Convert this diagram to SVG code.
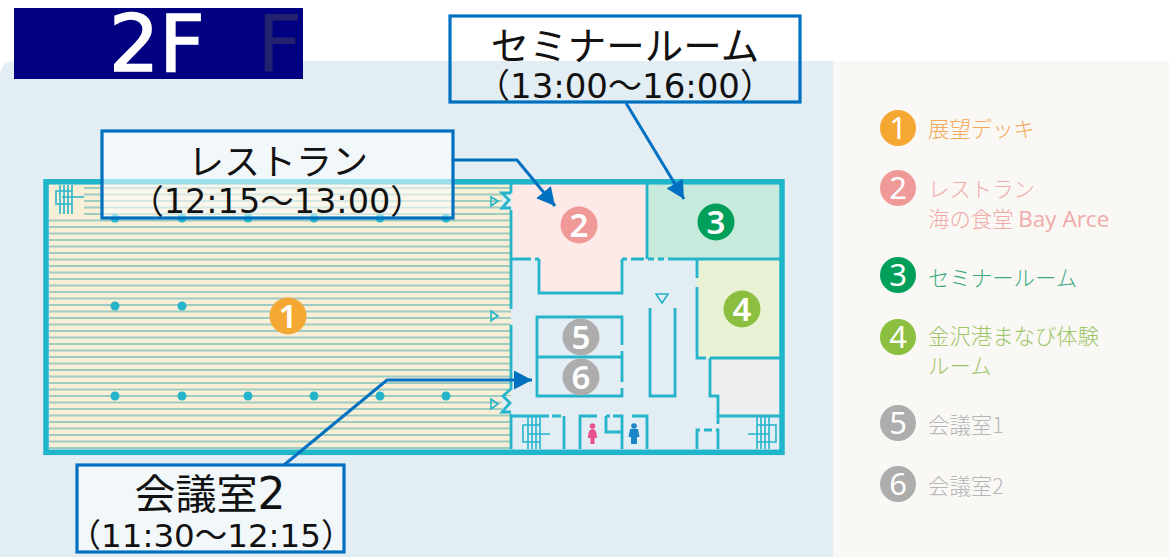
<svg xmlns="http://www.w3.org/2000/svg" width="1169" height="557" viewBox="0 0 1169 557">
<style>
.w{fill:none;stroke:#25b4ca;stroke-width:2.8}
.t{fill:none;stroke:#25b4ca;stroke-width:1.6}
.col{fill:#25b4ca}
.num{font-family:"Noto Sans","Open Sans",sans-serif;font-size:33px;font-weight:600;fill:#fff;text-anchor:middle}
.lnum{font-family:"Noto Sans","Open Sans",sans-serif;font-size:31px;font-weight:400;fill:#fff;text-anchor:middle}
.leg{font-family:"Noto Sans CJK JP","Noto Sans",sans-serif;font-size:21.400px;font-weight:300}
.box{fill:#fff;fill-opacity:.55;stroke:#0070c0;stroke-width:3.200}
.big{font-family:"DejaVu Sans","Noto Sans CJK JP",sans-serif;fill:#111;text-anchor:middle}
.cn{fill:none;stroke:#0070c0;stroke-width:3}
</style>
<defs>
<marker id="ah" markerUnits="userSpaceOnUse" markerWidth="20" markerHeight="20" refX="18" refY="9.500" orient="auto">
<path d="M0 0L18 9.500L0 19Z" fill="#0070c0"/>
</marker>
</defs>
<path d="M0 557V77Q0 61 16 61H833V557Z" fill="#e3edf4"/>
<rect x="833" y="61" width="336" height="496" fill="#faf8f5"/>
<g id="plan">
<rect x="49" y="184" width="462" height="265" fill="#f9eed6"/>
<line x1="280" y1="187" x2="280" y2="449" stroke="#9fccc0" stroke-width="462" stroke-dasharray="1.900 4.600"/>
<rect x="49" y="184" width="35" height="31" fill="#f9eed6"/>
<path d="M511 184H647V259H622V293H539V259H511Z" fill="#fde9e7"/>
<path d="M511 259H539V293H622V259H697V358H710V396H718V416H780V449H511ZM511 184Z" fill="#e3edf4"/>
<rect x="647" y="184" width="133" height="75" fill="#c8eadd"/>
<rect x="697" y="259" width="83" height="99" fill="#e9f2d5"/>
<path d="M710 358H780V416H718V396H710Z" fill="#efefef"/>
<rect x="502" y="193" width="10" height="17" fill="#e3edf4"/>
<rect x="502" y="396" width="10" height="18" fill="#e3edf4"/>
<rect x="46" y="181.800" width="736" height="270.500" fill="none" stroke="#1fb5ca" stroke-width="5.500"/>
<path class="w" d="M511 184V193M511 210V309M511 325V388M511 414V449M647 184V259M539 259V293H622V259M697 259V278M697 287V358H706M710 358H780M710 358V396H718V416H780M511 259H531M535 259H539M622 259H627M631 259H644M648 259H654M658 259H664M668 259H780"/>
<path class="w" d="M622 345V317H537V396H622V388M622 382V357H537M622 357V351M650 308V396H675V308"/>
<path class="w" d="M511 416H549M552 416H561M564 416V449M580 449V416H597M606 416V432H622M606 416H610M613 416H622V449M632 416H647V449M697 449V430H700M704 430H712M716 430H718V449M718 416V424M718 429V449"/>
<path class="t" d="M656 294H668L662 303ZM491 197L498 201L491 206ZM491 311L498 316L491 321ZM491 399L498 404L491 409Z"/>
<path class="w" d="M511 193H502L509 200L502 208H511M512 388L503 396L510 403L502 412H511"/>
<g id="stairs">
<path class="t" d="M72 191H56V204H72M60 185V214M64 185V214M68 185V214M72 185V214M62 197H84"/>
<path class="t" d="M540 425H523V442H540M528 417V449M532 417V449M536 417V449M540 417V449M528 434H550"/>
<path class="t" d="M757 425H776V442H757M757 417V449M761 417V449M765 417V449M769 417V449M748 434H770"/>
</g>
<g id="columns" class="col">
<circle cx="115" cy="218" r="4.500"/><circle cx="182" cy="218" r="4.500"/><circle cx="248" cy="218" r="4.500"/><circle cx="314" cy="218" r="4.500"/><circle cx="380" cy="218" r="4.500"/><circle cx="446" cy="218" r="4.500"/>
<circle cx="115" cy="306" r="4.500"/><circle cx="182" cy="306" r="4.500"/>
<circle cx="115" cy="396" r="4.500"/><circle cx="182" cy="396" r="4.500"/><circle cx="248" cy="396" r="4.500"/><circle cx="314" cy="396" r="4.500"/><circle cx="380" cy="396" r="4.500"/><circle cx="446" cy="396" r="4.500"/>
</g>
<g id="wc">
<circle cx="592.500" cy="426" r="2.800" fill="#e8508e"/><path d="M592.500 429C589 429 588 434 588 438H590.500V444H594.500V438H597C597 434 596 429 592.500 429Z" fill="#e8508e"/>
<circle cx="634" cy="426" r="2.800" fill="#1a86c8"/><path d="M630 429H638L639.500 437H637V444H631V437H628.500Z" fill="#1a86c8"/>
</g>
</g>
<g id="n1"><circle cx="288" cy="316" r="18.500" fill="#f5a733"/><text class="num" x="288" y="328">1</text></g>
<g id="n2"><circle cx="579" cy="225" r="18.500" fill="#ef9a98"/><text class="num" x="579" y="237">2</text></g>
<g id="n3"><circle cx="716" cy="222" r="18.500" fill="#00a05a"/><text class="num" x="716" y="234">3</text></g>
<g id="n4"><circle cx="742" cy="309" r="18.500" fill="#8cbf3f"/><text class="num" x="742" y="321">4</text></g>
<g id="n5"><circle cx="581" cy="337" r="18.500" fill="#adadad"/><text class="num" x="581" y="349">5</text></g>
<g id="n6"><circle cx="581" cy="377" r="18.500" fill="#adadad"/><text class="num" x="581" y="389">6</text></g>
<g id="legend1"><circle cx="898" cy="128" r="18" fill="#f5a733"/><text class="lnum" x="898" y="139">1</text><text class="leg" x="928" y="137" fill="#f4a95a">展望デッキ</text></g>
<g id="legend2"><circle cx="898" cy="188" r="18" fill="#ef9a98"/><text class="lnum" x="898" y="199">2</text><text class="leg" x="928" y="197" fill="#f0aaa8">レストラン</text><text class="leg" x="928" y="227" fill="#f0aaa8">海の食堂 <tspan font-family="'Open Sans',sans-serif" font-size="22.500" font-weight="400">Bay Arce</tspan></text></g>
<g id="legend3"><circle cx="898" cy="275" r="18" fill="#00a05a"/><text class="lnum" x="898" y="286">3</text><text class="leg" x="928" y="286" fill="#3aaa7c">セミナールーム</text></g>
<g id="legend4"><circle cx="898" cy="337" r="18" fill="#8cbf3f"/><text class="lnum" x="898" y="348">4</text><text class="leg" x="928" y="344" fill="#9cc668">金沢港まなび体験</text><text class="leg" x="928" y="374" fill="#9cc668">ルーム</text></g>
<g id="legend5"><circle cx="898" cy="423" r="18" fill="#adadad"/><text class="lnum" x="898" y="434">5</text><text class="leg" x="928" y="433" fill="#b5b5b5">会議室1</text></g>
<g id="legend6"><circle cx="898" cy="484" r="18" fill="#adadad"/><text class="lnum" x="898" y="495">6</text><text class="leg" x="928" y="494" fill="#b5b5b5">会議室2</text></g>
<g id="connectors">
<path class="cn" d="M453 160H517L555 206" marker-end="url(#ah)"/>
<path class="cn" d="M626 103L684 199" marker-end="url(#ah)"/>
<path class="cn" d="M284 465L387 380H532" marker-end="url(#ah)"/>
</g>
<g id="title"><rect x="14" y="8" width="289" height="71" fill="#000080"/>
<text x="109" y="71" font-family="'DejaVu Sans',sans-serif" font-size="79" fill="#fff" stroke="#fff" stroke-width="1.600">2F</text>
<text x="257" y="71" font-family="'DejaVu Sans',sans-serif" font-size="79" fill="#22226e">F</text></g>
<g id="cRestaurant"><rect class="box" x="102" y="131" width="351" height="87"/>
<text class="big" x="278" y="175" font-size="36">レストラン</text>
<text class="big" x="277" y="213" font-size="33.500">（12:15～13:00）</text></g>
<g id="cSeminar"><rect x="450" y="16" width="350" height="86" fill="none" stroke="#0070c0" stroke-width="3.200"/>
<text class="big" x="625" y="60" font-size="38.500">セミナールーム</text>
<text class="big" x="625" y="98" font-size="34">（13:00～16:00）</text></g>
<g id="cRoom2"><rect class="box" x="77" y="465" width="267" height="87"/>
<text class="big" x="210" y="509" font-size="41">会議室<tspan font-size="44">2</tspan></text>
<text class="big" x="211" y="547" font-size="32.500">（11:30～12:15）</text></g>
</svg>
